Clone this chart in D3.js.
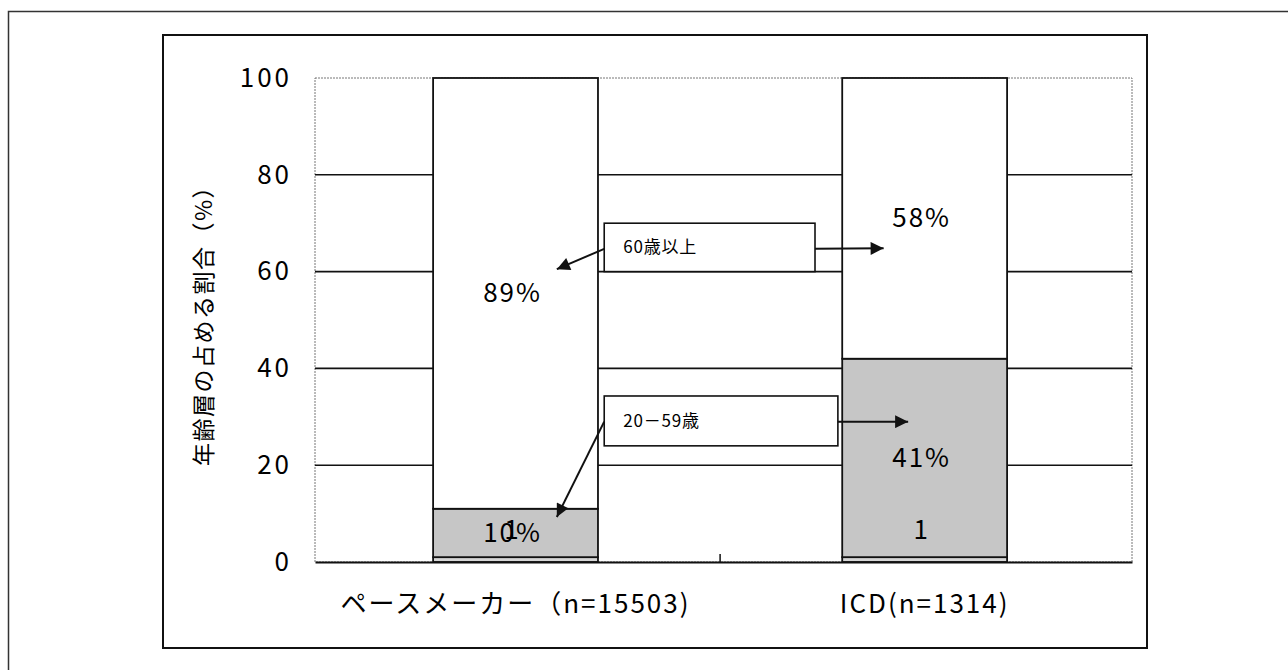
<!DOCTYPE html>
<html><head><meta charset="utf-8">
<script src="https://cdn.jsdelivr.net/npm/d3@7"></script>
<style>body{margin:0;background:#fff}svg{display:block}text{font-family:"Noto Sans CJK JP","Noto Sans",sans-serif;fill:#000}</style>
</head><body><svg id="c" width="1288" height="670"></svg>
<script>
const categories = ["ペースメーカー（n=15503)", "ICD(n=1314)"];
const seriesNames = ["20歳未満", "20－59歳", "60歳以上"];
const under20 = [1, 1];
const age20to59 = [10, 41];
const age60plus = [89, 58];
const under20Labels = ["1", "1"];
const age20to59Labels = ["10%", "41%"];
const age60plusLabels = ["89%", "58%"];
const yTicks = [0, 20, 40, 60, 80, 100];
const yTitle = "年齢層の占める割合（%）";
const annotations = [
  {text: "60歳以上", y0: 60, y1: 70, x0: 0.354, x1: 0.612, ly: 64.7, lTip: [0.296, 60.5], rTip: [0.696, 64.8]},
  {text: "20－59歳", y0: 24, y1: 34.3, x0: 0.354, x1: 0.640, ly: 29.0, lTip: [0.296, 9.3], rTip: [0.726, 29.0]}
];

const svg = d3.select("#c");
const L = 315, R = 1132, T = 78, B = 562;
const x = d3.scaleBand().domain(categories).range([L, R]).paddingInner(0.597).paddingOuter(0.297).align(0.486);
const y = d3.scaleLinear().domain([0, 100]).range([B, T]);
const fx = d3.scaleLinear().domain([0, 1]).range([L, R]);

// frames
svg.append("rect").attr("x", 8.5).attr("y", 11.5).attr("width", 2000).attr("height", 2000)
  .attr("fill", "none").attr("stroke", "#333").attr("stroke-width", 1.5);
svg.append("rect").attr("x", 163).attr("y", 35).attr("width", 984).attr("height", 613)
  .attr("fill", "#fff").attr("stroke", "#111").attr("stroke-width", 2);

// plot border
svg.append("rect").attr("x", L).attr("y", T).attr("width", R - L).attr("height", B - T)
  .attr("fill", "none").attr("stroke", "#777").attr("stroke-width", 1).attr("stroke-dasharray", "2,1");

// gridlines
svg.append("g").selectAll("line").data(yTicks.filter(d => d > 0 && d < 100)).join("line")
  .attr("x1", L).attr("x2", R).attr("y1", d => y(d)).attr("y2", d => y(d))
  .attr("stroke", "#111").attr("stroke-width", 1.6);

// stacked data
const rows = categories.map((c, i) => ({cat: c, "20歳未満": under20[i], "20－59歳": age20to59[i], "60歳以上": age60plus[i]}));
const stack = d3.stack().keys(seriesNames)(rows);
const fills = {"20歳未満": "#d6d6d6", "20－59歳": "#c6c6c6", "60歳以上": "#ffffff"};
svg.append("g").selectAll("g").data(stack).join("g").attr("fill", d => fills[d.key])
  .selectAll("rect").data(d => d).join("rect")
  .attr("x", d => x(d.data.cat)).attr("width", x.bandwidth())
  .attr("y", d => y(d[1])).attr("height", d => y(d[0]) - y(d[1]))
  .attr("stroke", "#111").attr("stroke-width", 1.8);

// axis baseline
const ax = svg.append("g").attr("transform", `translate(0,${B})`)
  .call(d3.axisBottom(x).tickSize(0).tickFormat(""));
ax.select(".domain").attr("stroke", "#111").attr("stroke-width", 2);
// category divider tick
const midX = x(categories[0]) + x.bandwidth() + (x.step() - x.bandwidth()) / 2;
svg.append("line").attr("x1", midX).attr("x2", midX).attr("y1", B).attr("y2", B - 8)
  .attr("stroke", "#111").attr("stroke-width", 1.5);

// category labels
svg.append("g").selectAll("text").data(categories).join("text")
  .attr("x", d => x(d) + x.bandwidth() / 2).attr("y", 613)
  .attr("text-anchor", "middle").attr("font-size", 26).attr("letter-spacing", 2).text(d => d);

// y axis labels
const ya = svg.append("g").attr("transform", `translate(${L},0)`)
  .call(d3.axisLeft(y).tickValues(yTicks).tickSize(0).tickPadding(23));
ya.select(".domain").remove();
ya.selectAll("text").attr("font-size", 26).attr("letter-spacing", 3).attr("font-family", '"Noto Sans CJK JP",sans-serif');

// y title
svg.append("text").attr("transform", `translate(212,${(T + B) / 2}) rotate(-90)`)
  .attr("text-anchor", "middle").attr("font-size", 23).attr("letter-spacing", 1.5).text(yTitle);

// value labels
const cx = d => x(d) + x.bandwidth() / 2 - 3;
const lab = (vals, yf) => svg.append("g").selectAll("text").data(categories).join("text")
  .attr("x", cx).attr("y", (d, i) => y(yf(i)))
  .attr("dy", "0.35em").attr("text-anchor", "middle").attr("font-size", 26).attr("letter-spacing", 2)
  .text((d, i) => vals[i]);
lab(age60plusLabels, i => under20[i] + age20to59[i] + age60plus[i] / 2);
lab(age20to59Labels, i => under20[i] + age20to59[i] / 2);
lab(under20Labels, i => under20[i] + 5.6);

// arrow marker
svg.append("defs").append("marker").attr("id", "ah").attr("viewBox", "0 0 10 10")
  .attr("refX", 10).attr("refY", 5).attr("markerWidth", 8).attr("markerHeight", 6.5)
  .attr("markerUnits", "strokeWidth").attr("orient", "auto")
  .append("path").attr("d", "M0,0L10,5L0,10Z").attr("fill", "#111");

// annotations
const an = svg.append("g").selectAll("g").data(annotations).join("g");
an.append("rect").attr("x", d => fx(d.x0)).attr("y", d => y(d.y1))
  .attr("width", d => fx(d.x1) - fx(d.x0)).attr("height", d => y(d.y0) - y(d.y1))
  .attr("fill", "#fff").attr("stroke", "#111").attr("stroke-width", 1.6);
an.append("text").attr("x", d => fx(d.x0) + 19).attr("y", d => y((d.y0 + d.y1) / 2))
  .attr("dy", "0.35em").attr("font-size", 17).attr("letter-spacing", 0.8).text(d => d.text);
an.append("line").attr("x1", d => fx(d.x0)).attr("y1", d => y(d.ly))
  .attr("x2", d => fx(d.lTip[0])).attr("y2", d => y(d.lTip[1]))
  .attr("stroke", "#111").attr("stroke-width", 2).attr("marker-end", "url(#ah)");
an.append("line").attr("x1", d => fx(d.x1)).attr("y1", d => y(d.ly))
  .attr("x2", d => fx(d.rTip[0])).attr("y2", d => y(d.rTip[1]))
  .attr("stroke", "#111").attr("stroke-width", 2).attr("marker-end", "url(#ah)");
</script></body></html>
